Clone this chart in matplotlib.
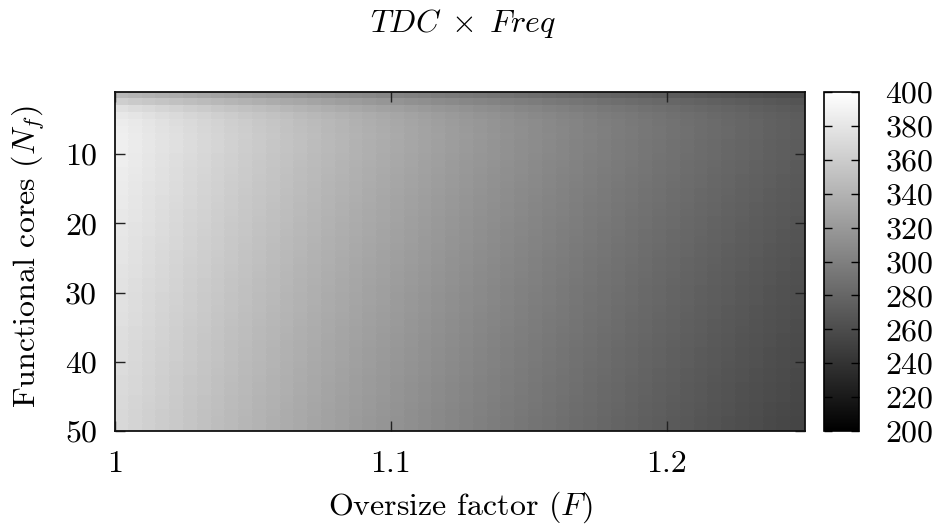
import matplotlib
matplotlib.use("Agg")
import matplotlib.pyplot as plt
import numpy as np

plt.rcParams["font.family"] = "serif"
plt.rcParams["font.serif"] = ["cmr10"]
plt.rcParams["mathtext.fontset"] = "cm"
plt.rcParams["axes.formatter.use_mathtext"] = True

# Sampling grid: oversize factor F (1.00 .. 1.25, step 0.005) and functional cores N_f (1 .. 50)
f_start, f_stop = 1.0, 1.25
n_start, n_stop = 1, 50

# TDC x Freq at the first F column (F ~ 1.0), one value per N_f row (rows 1..49)
row_left = [344, 361, 375, 382, 385, 386, 387, 387, 387, 386,
            386, 385, 385, 384, 384, 383, 383, 382, 382, 381,
            381, 380, 380, 379, 379, 378, 378, 377, 377, 376,
            376, 376, 375, 375, 374, 374, 373, 373, 373, 372,
            372, 371, 371, 371, 370, 370, 369, 369, 369]

# TDC x Freq at the last F column (F ~ 1.25), one value per N_f row
row_right = [259, 266, 270, 272, 273, 273, 273, 272, 272, 272,
             271, 271, 270, 270, 269, 269, 268, 268, 267, 267,
             266, 266, 265, 265, 264, 264, 263, 263, 262, 262,
             262, 261, 261, 260, 260, 259, 259, 258, 258, 258,
             257, 257, 256, 256, 256, 255, 255, 254, 254]

# Fraction of the total drop reached at each F column (50 columns)
col_shape = [0.000, 0.026, 0.052, 0.078, 0.104, 0.130, 0.155, 0.179, 0.204, 0.228,
             0.252, 0.275, 0.298, 0.321, 0.344, 0.367, 0.389, 0.411, 0.432, 0.454,
             0.475, 0.496, 0.517, 0.537, 0.558, 0.578, 0.598, 0.617, 0.637, 0.656,
             0.675, 0.694, 0.712, 0.731, 0.749, 0.767, 0.785, 0.802, 0.820, 0.837,
             0.854, 0.871, 0.887, 0.904, 0.920, 0.937, 0.953, 0.969, 0.984, 1.000]

x_ticks = [1.0, 1.1, 1.2]
x_tick_labels = ["1", "1.1", "1.2"]
y_ticks = [10, 20, 30, 40, 50]
cbar_ticks = list(range(200, 401, 20))

left = np.array(row_left, dtype=float)[:, None]
right = np.array(row_right, dtype=float)[:, None]
shape = np.array(col_shape)[None, :]
values = left + (right - left) * shape

f_edges = np.linspace(f_start, f_stop, len(col_shape) + 1)
n_edges = np.arange(n_start, n_stop + 1)

FS = 23
W, H = 938, 531
fig = plt.figure(figsize=(W / 100, H / 100), dpi=100)
ax = fig.add_axes([115 / W, 1 - 431 / H, 690 / W, 339 / H])

mesh = ax.pcolormesh(f_edges, n_edges, values, cmap="gray", vmin=200, vmax=400,
                     shading="flat", edgecolors="face", linewidth=0.3)
ax.set_xlim(f_start, f_stop)
ax.set_ylim(n_stop, n_start)

ax.set_xticks(x_ticks)
ax.set_xticklabels(x_tick_labels)
ax.set_yticks(y_ticks)
ax.set_yticklabels([str(t) for t in y_ticks])
ax.tick_params(direction="in", top=True, right=True, length=7, width=1.0,
               labelsize=FS, color="#222222")
ax.tick_params(axis="x", pad=14)
ax.tick_params(axis="y", pad=13)
for sp in ax.spines.values():
    sp.set_linewidth(1.3)
    sp.set_color("#111111")

cax = fig.add_axes([824 / W, 1 - 431 / H, 35 / W, 339 / H])
cb = fig.colorbar(mesh, cax=cax, ticks=cbar_ticks)
cb.outline.set_linewidth(1.2)
cax.tick_params(direction="in", left=True, right=True, length=6, width=1.0,
                labelsize=FS, pad=19)
cb.ax.set_yticklabels([str(t) for t in cbar_ticks])

fig.text(463 / W, 1 - 24 / H, r"$TDC \;\times\; Freq$", ha="center", va="center", fontsize=FS)
fig.text(460 / W, 1 - 507 / H, r"Oversize factor ($F$)", ha="center", va="center", fontsize=FS)
fig.text(28 / W, 1 - 256 / H, r"Functional cores ($N_f$)", ha="center", va="center",
         rotation=90, fontsize=FS)

fig.savefig("out.png", dpi=100)
